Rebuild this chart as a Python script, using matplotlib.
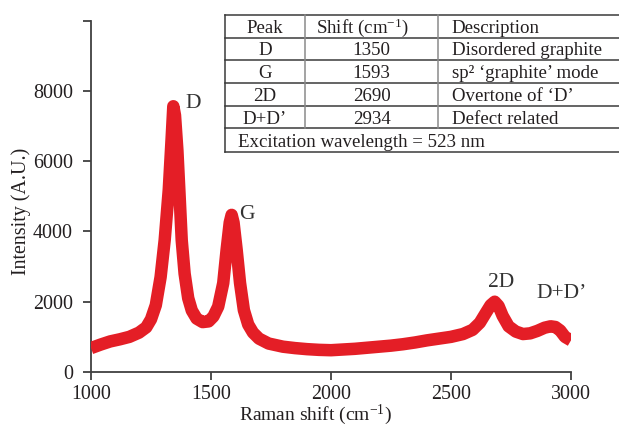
import matplotlib
matplotlib.use("Agg")
import matplotlib.pyplot as plt
from matplotlib.lines import Line2D

plt.rcParams['font.family'] = ['Liberation Serif', 'DejaVu Serif']
plt.rcParams['mathtext.fontset'] = 'custom'
plt.rcParams['mathtext.rm'] = 'Liberation Serif'
plt.rcParams['mathtext.it'] = 'Liberation Serif:italic'

# ---------------- data ----------------
raman_shift = [1000, 1040, 1080, 1120, 1160, 1200, 1230, 1250, 1270, 1290, 1307, 1324, 1336,
               1343, 1350, 1360, 1368, 1378, 1390, 1405, 1420, 1440, 1465, 1490, 1510, 1530,
               1551, 1565, 1578, 1586, 1594, 1607, 1621, 1637, 1655, 1675, 1700, 1740, 1800,
               1850, 1900, 1950, 2000, 2050, 2100, 2150, 2200, 2250, 2300, 2350, 2400, 2450,
               2500, 2550, 2590, 2620, 2645, 2665, 2682, 2698, 2715, 2740, 2770, 2800, 2830,
               2860, 2890, 2915, 2935, 2955, 2975, 3000]
intensity = [680, 780, 870, 930, 1000, 1120, 1270, 1500, 1900, 2700, 3750, 5180, 6650,
             7560, 7300, 6300, 5180, 3750, 2800, 2100, 1750, 1520, 1420, 1440, 1580, 1860,
             2530, 3470, 4250, 4470, 4250, 3470, 2530, 1760, 1350, 1120, 950, 810, 720,
             680, 650, 630, 620, 640, 660, 690, 720, 750, 790, 840, 900, 950,
             1000, 1080, 1200, 1400, 1680, 1900, 2000, 1880, 1600, 1300, 1150, 1080, 1100,
             1170, 1260, 1300, 1280, 1180, 1000, 900]

peak_labels = ["D", "G", "2D", "D+D\u2019"]
peak_label_x = [1425, 1650, 2708, 2962]
peak_label_y = [7625, 4495, 2560, 2220]

x_ticks = [1000, 1500, 2000, 2500, 3000]
y_ticks = [0, 2000, 4000, 6000, 8000, 10000]
y_tick_labels = ["0", "2000", "4000", "6000", "8000", ""]

table_header = ["Peak", "Shift (cm$^{-1}$)", "Description"]
table_peaks = ["D", "G", "2D", "D+D\u2019"]
table_shifts = ["1350", "1593", "2690", "2934"]
table_desc = ["Disordered graphite", "sp\u00b2 \u2018graphite\u2019 mode",
              "Overtone of \u2018D\u2019", "Defect related"]
table_footer = "Excitation wavelength = 523 nm"

# ---------------- figure ----------------
W, H = 619, 428
fig = plt.figure(figsize=(W / 100, H / 100), dpi=100)
ax = fig.add_axes([91 / W, 1 - 372 / H, 480 / W, 351.5 / H])

red = '#e41e26'
txt = '#231f20'
axc = '#404040'

ax.plot(raman_shift, intensity, color=red, lw=9.0, solid_joinstyle='round',
        solid_capstyle='butt', zorder=3)

for lab, lx, ly in zip(peak_labels, peak_label_x, peak_label_y):
    ax.text(lx, ly, lab, ha='center', va='center', fontsize=15.5, color='#333333')

ax.set_xlim(1000, 3000)
ax.set_ylim(0, 10000)
ax.set_xticks(x_ticks)
ax.set_yticks(y_ticks)
ax.set_yticklabels(y_tick_labels)
for s in ['top', 'right']:
    ax.spines[s].set_visible(False)
for s in ['left', 'bottom']:
    ax.spines[s].set_color(axc)
    ax.spines[s].set_linewidth(1.3)
ax.tick_params(axis='both', direction='out', length=6, width=1.3, color=axc,
               labelsize=14.4, labelcolor=txt)
ax.tick_params(axis='y', pad=7)
ax.tick_params(axis='x', pad=3.5)

ax.set_xlabel("Raman shift (cm$^{-1}$)", fontsize=14.0, color=txt)
ax.set_ylabel("Intensity (A.U.)", fontsize=14.4, color=txt)
ax.xaxis.label.set_va('baseline')
ax.xaxis.set_label_coords(0.467, -(420.5 - 372) / 351.5)
ax.yaxis.set_label_coords(-0.125, 0.456)

# ---------------- table (figure pixel coordinates) ----------------
def fx(px):
    return px / W

def fy(py):
    return 1 - py / H

rows_y = [15, 37.7, 60, 82.7, 106, 128.3, 151.7]
x_left, x_c2, x_c3, x_right = 225, 305, 438.3, 619
dark = '#3a3a3a'
gray = '#8a8a8a'

for yy in rows_y:
    fig.add_artist(Line2D([fx(x_left), fx(x_right)], [fy(yy), fy(yy)],
                          color=dark, lw=1.1, transform=fig.transFigure))
fig.add_artist(Line2D([fx(x_left), fx(x_left)], [fy(rows_y[0]), fy(rows_y[-1])],
                      color=dark, lw=1.1, transform=fig.transFigure))
for xx in (x_c2, x_c3):
    fig.add_artist(Line2D([fx(xx), fx(xx)], [fy(rows_y[0]), fy(rows_y[-2])],
                          color=gray, lw=1.1, transform=fig.transFigure))

tfs = 13.6
c1 = (x_left + x_c2) / 2
c2 = (x_c2 + x_c3) / 2
dx = 451.7

def base(i):
    return fy(rows_y[i + 1] - 4.7)

fig.text(fx(c1), base(0), table_header[0], ha='center', va='baseline', fontsize=tfs, color=txt)
fig.text(fx(362), base(0), table_header[1], ha='center', va='baseline', fontsize=tfs, color=txt)
fig.text(fx(dx), base(0), table_header[2], ha='left', va='baseline', fontsize=tfs, color=txt)
for r, (p, s, d) in enumerate(zip(table_peaks, table_shifts, table_desc), start=1):
    fig.text(fx(c1), base(r), p, ha='center', va='baseline', fontsize=tfs, color=txt)
    fig.text(fx(c2), base(r), s, ha='center', va='baseline', fontsize=tfs, color=txt)
    fig.text(fx(dx), base(r), d, ha='left', va='baseline', fontsize=tfs, color=txt)
fig.text(fx(238.3), base(5), table_footer, ha='left', va='baseline', fontsize=tfs, color=txt)

fig.savefig("out.png", dpi=100)
